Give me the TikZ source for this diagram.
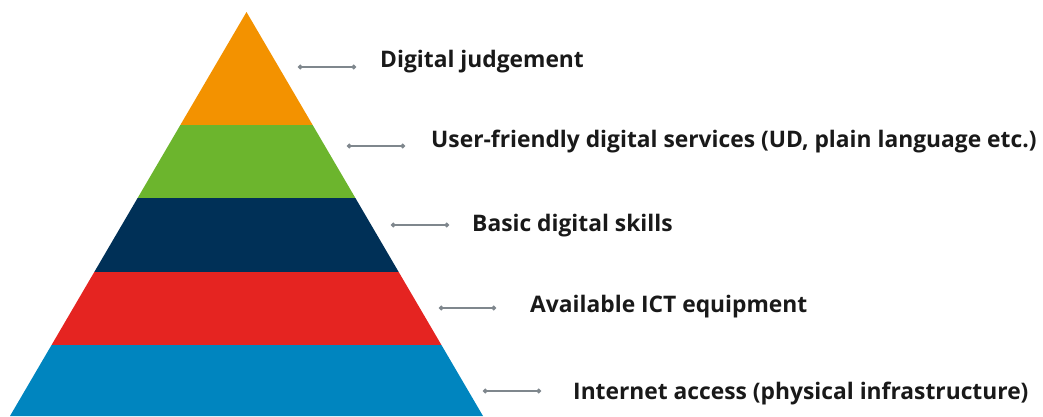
\documentclass[tikz,border=0pt]{standalone}
\usepackage{fontspec}
\setmainfont{Open Sans}
\usetikzlibrary{calc,arrows.meta}
\definecolor{orangeband}{HTML}{F39200}
\definecolor{greenband}{HTML}{6CB52D}
\definecolor{navyband}{HTML}{003057}
\definecolor{redband}{HTML}{E52421}
\definecolor{blueband}{HTML}{0085BF}
\definecolor{linegray}{HTML}{7F878D}
\begin{document}
\begin{tikzpicture}[x=1pt, y=-1pt, label/.style={anchor=base west, inner sep=0pt, font=\fontsize{22.8}{26}\selectfont\bfseries, text=black!90}, leader/.style={draw=linegray, line width=1.3pt, {Circle[length=4.5pt]}-{Circle[length=4.5pt]}}]
\useasboundingbox (0,0) rectangle (1043,416);
\coordinate (apex) at (246.5,12);
\coordinate (left) at (10,416);
\coordinate (right) at (483,416);

% pyramid bands
\fill[orangeband] (apex) -- ($(apex)!0.2797!(left)$) -- ($(apex)!0.2797!(right)$) -- cycle;
\fill[greenband] ($(apex)!0.2797!(left)$) -- ($(apex)!0.4604!(left)$) -- ($(apex)!0.4604!(right)$) -- ($(apex)!0.2797!(right)$) -- cycle;
\fill[navyband] ($(apex)!0.4604!(left)$) -- ($(apex)!0.6436!(left)$) -- ($(apex)!0.6436!(right)$) -- ($(apex)!0.4604!(right)$) -- cycle;
\fill[redband] ($(apex)!0.6436!(left)$) -- ($(apex)!0.8243!(left)$) -- ($(apex)!0.8243!(right)$) -- ($(apex)!0.6436!(right)$) -- cycle;
\fill[blueband] ($(apex)!0.8243!(left)$) -- (left) -- (right) -- ($(apex)!0.8243!(right)$) -- cycle;

% labels
\node[label] (judgement) at (380,67) {Digital judgement};
\node[label] (services) at (431,147) {User-friendly digital services (UD, plain language etc.)};
\node[label] (skills) at (472,231) {Basic digital skills};
\node[label] (equipment) at (530,312) {Available ICT equipment};
\node[label] (access) at (573,399) {Internet access (physical infrastructure)};

% leaders
\coordinate (j1) at (298,67); \coordinate (j2) at (356,67);
\coordinate (s1) at (347,146); \coordinate (s2) at (405,146);
\coordinate (k1) at (391,225); \coordinate (k2) at (449,225);
\coordinate (e1) at (439,308); \coordinate (e2) at (496,308);
\coordinate (a1) at (483,391); \coordinate (a2) at (541,391);
\draw[leader] (j1) -- (j2);
\draw[leader] (s1) -- (s2);
\draw[leader] (k1) -- (k2);
\draw[leader] (e1) -- (e2);
\draw[leader] (a1) -- (a2);
\end{tikzpicture}
\end{document}
